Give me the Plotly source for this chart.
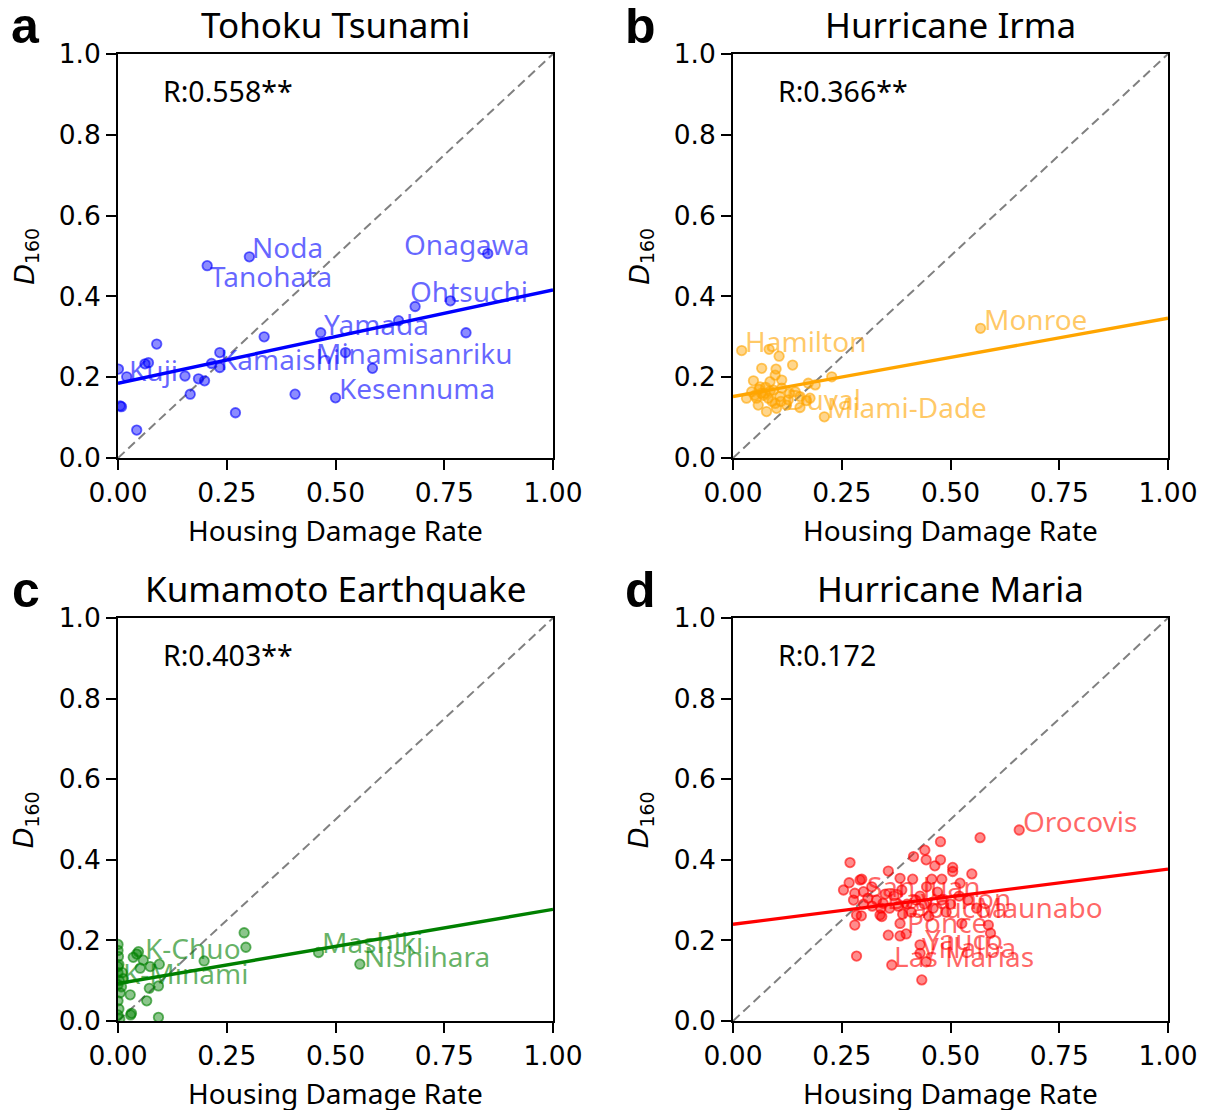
import plotly.graph_objects as go

FONT = "Noto Sans"
TICK_FONT = "DejaVu Sans"

# ---------------- data ----------------
titles = ["Tohoku Tsunami", "Hurricane Irma", "Kumamoto Earthquake", "Hurricane Maria"]
panel_letters = ["a", "b", "c", "d"]
r_texts = ["R:0.558**", "R:0.366**", "R:0.403**", "R:0.172"]
colors = [(0, 0, 255), (255, 165, 0), (0, 128, 0), (255, 0, 0)]

tohoku_x = [0.302, 0.205, 0.850, 0.764, 0.683, 0.645, 0.466, 0.800, 0.523, 0.585,
            0.407, 0.500, 0.336, 0.270, 0.234, 0.234, 0.215, 0.199, 0.185, 0.154,
            0.166, 0.089, 0.062, 0.070, 0.020, 0.001, 0.008, 0.005, 0.043]
tohoku_y = [0.498, 0.476, 0.506, 0.389, 0.375, 0.340, 0.310, 0.310, 0.261, 0.222,
            0.158, 0.149, 0.300, 0.112, 0.261, 0.224, 0.234, 0.191, 0.196, 0.203,
            0.158, 0.282, 0.233, 0.236, 0.201, 0.220, 0.127, 0.129, 0.069]

irma_x = [0.020, 0.083, 0.106, 0.137, 0.066, 0.099, 0.097, 0.227, 0.047, 0.085,
          0.112, 0.173, 0.189, 0.043, 0.062, 0.074, 0.093, 0.112, 0.143, 0.031,
          0.054, 0.081, 0.108, 0.127, 0.154, 0.169, 0.058, 0.097, 0.123, 0.154,
          0.177, 0.077, 0.100, 0.210, 0.569, 0.065, 0.070, 0.085, 0.090, 0.060,
          0.075, 0.110, 0.130, 0.050]
irma_y = [0.266, 0.269, 0.252, 0.230, 0.222, 0.220, 0.205, 0.201, 0.191, 0.189,
          0.193, 0.185, 0.181, 0.164, 0.176, 0.160, 0.168, 0.173, 0.164, 0.148,
          0.148, 0.148, 0.152, 0.144, 0.152, 0.142, 0.131, 0.135, 0.131, 0.125,
          0.148, 0.115, 0.123, 0.102, 0.321, 0.160, 0.155, 0.165, 0.140, 0.170,
          0.175, 0.140, 0.160, 0.155]

kumamoto_x = [0.290, 0.294, 0.198, 0.461, 0.556, 0.047, 0.035, 0.058, 0.051, 0.095,
              0.093, 0.072, 0.028, 0.066, 0.029, 0.093, 0.031, 0.043, 0.074, 0.000,
              0.000, 0.001, 0.002, 0.000, 0.003, 0.000, 0.005, 0.000, 0.002, 0.000,
              0.004, 0.010, 0.008, 0.012, 0.000]
kumamoto_y = [0.219, 0.183, 0.149, 0.170, 0.141, 0.172, 0.158, 0.151, 0.131, 0.141,
              0.087, 0.081, 0.065, 0.050, 0.015, 0.009, 0.019, 0.166, 0.135, 0.190,
              0.175, 0.160, 0.140, 0.120, 0.100, 0.090, 0.070, 0.050, 0.030, 0.015,
              0.005, 0.120, 0.085, 0.105, 0.135]

maria_x = [0.658, 0.568, 0.477, 0.441, 0.415, 0.444, 0.477, 0.464, 0.505, 0.505,
           0.549, 0.269, 0.357, 0.384, 0.413, 0.457, 0.480, 0.522, 0.296, 0.267,
           0.319, 0.254, 0.388, 0.445, 0.277, 0.345, 0.284, 0.280, 0.342, 0.384,
           0.357, 0.384, 0.398, 0.526, 0.587, 0.592, 0.430, 0.284, 0.365, 0.434,
           0.444, 0.430, 0.292, 0.280, 0.300, 0.295, 0.338, 0.300, 0.320, 0.340,
           0.360, 0.380, 0.400, 0.420, 0.440, 0.460, 0.480, 0.500, 0.520, 0.330,
           0.370, 0.410, 0.450, 0.490, 0.430, 0.350, 0.390, 0.310, 0.470, 0.540,
           0.560]
maria_y = [0.474, 0.455, 0.445, 0.424, 0.408, 0.400, 0.400, 0.385, 0.381, 0.371,
           0.365, 0.393, 0.372, 0.354, 0.352, 0.352, 0.352, 0.342, 0.352, 0.343,
           0.333, 0.325, 0.325, 0.333, 0.300, 0.292, 0.263, 0.238, 0.259, 0.242,
           0.213, 0.211, 0.216, 0.242, 0.238, 0.218, 0.189, 0.161, 0.139, 0.102,
           0.147, 0.168, 0.350, 0.317, 0.321, 0.261, 0.263, 0.290, 0.285, 0.280,
           0.280, 0.285, 0.290, 0.300, 0.290, 0.280, 0.300, 0.290, 0.310, 0.300,
           0.310, 0.270, 0.260, 0.270, 0.310, 0.315, 0.265, 0.305, 0.320, 0.300,
           0.280]

# fitted regression lines (intercept, slope)
fit_intercepts = [0.185, 0.152, 0.093, 0.240]
fit_slopes = [0.231, 0.194, 0.184, 0.137]

# point labels: name, label x, label y (data units)
tohoku_labels = [("Noda", 0.303, 0.522), ("Tanohata", 0.207, 0.450), ("Onagawa", 0.653, 0.530),
                 ("Ohtsuchi", 0.667, 0.413), ("Yamada", 0.469, 0.332), ("Minamisanriku", 0.451, 0.260),
                 ("Kesennuma", 0.503, 0.173), ("Kamaishi", 0.230, 0.245), ("Kuji", 0.021, 0.218)]
irma_labels = [("Monroe", 0.572, 0.344), ("Hamilton", 0.023, 0.290), ("Duval", 0.118, 0.146),
               ("Miami-Dade", 0.211, 0.126)]
kumamoto_labels = [("K-Chuo", 0.057, 0.181), ("K-Minami", 0.008, 0.119), ("Mashiki", 0.464, 0.196),
                   ("Nishihara", 0.561, 0.161)]
maria_labels = [("Orocovis", 0.662, 0.496), ("San Juan", 0.303, 0.335), ("Bayamon", 0.349, 0.305),
                ("Yabucoa", 0.372, 0.283), ("Maunabo", 0.556, 0.283), ("Ponce", 0.395, 0.246),
                ("Yauco", 0.437, 0.203), ("Villalba", 0.430, 0.184), ("Las Marias", 0.366, 0.161)]

xs = [tohoku_x, irma_x, kumamoto_x, maria_x]
ys = [tohoku_y, irma_y, kumamoto_y, maria_y]
labels = [tohoku_labels, irma_labels, kumamoto_labels, maria_labels]

x_ticks = [0, 0.25, 0.5, 0.75, 1.0]
y_ticks = [0, 0.2, 0.4, 0.6, 0.8, 1.0]

# ---------------- layout geometry ----------------
# the page body has an 8px margin, so the figure starts at (8, 8)
OFF = 8
W, H = 1208 - OFF, 1110 - OFF


def px_x(p):
    return (p - OFF) / W


def px_y(p):
    return 1 - (p - OFF) / H


x_doms = [[px_x(118), px_x(553)], [px_x(733), px_x(1168)]]
y_doms = [[px_y(458), px_y(54)], [px_y(1021), px_y(618)]]


def rgba(c, a):
    return f"rgba({c[0]},{c[1]},{c[2]},{a})"


fig = go.Figure()
annotations = []
layout_axes = {}

for i in range(4):
    row, col = divmod(i, 2)
    n = "" if i == 0 else str(i + 1)
    xa, ya = "x" + n, "y" + n
    c = colors[i]

    fig.add_trace(go.Scatter(x=[0, 1], y=[0, 1], mode="lines", xaxis=xa, yaxis=ya,
                             line=dict(color="gray", width=2, dash="9px,5px"),
                             showlegend=False, hoverinfo="skip"))
    fig.add_trace(go.Scatter(x=xs[i], y=ys[i], mode="markers", xaxis=xa, yaxis=ya,
                             marker=dict(size=9.5, color=rgba(c, 0.45),
                                         line=dict(color=rgba(c, 0.6), width=1.8)),
                             showlegend=False))
    fx = [0, 1]
    fy = [fit_intercepts[i] + fit_slopes[i] * v for v in fx]
    fig.add_trace(go.Scatter(x=fx, y=fy, mode="lines", xaxis=xa, yaxis=ya,
                             line=dict(color=rgba(c, 1), width=3.4),
                             showlegend=False))

    axis_common = dict(range=[0, 1], showgrid=False, zeroline=False, showline=True,
                       linecolor="black", linewidth=1.6, mirror=True, ticks="outside",
                       ticklen=10, tickwidth=1.6, tickcolor="black", automargin=False,
                       tickfont=dict(family=TICK_FONT, size=26.5, color="black"))
    layout_axes["xaxis" + n] = dict(axis_common, domain=x_doms[col], anchor=ya,
                                    tickvals=x_ticks, ticktext=[f"{v:.2f}" for v in x_ticks])
    layout_axes["yaxis" + n] = dict(axis_common, domain=y_doms[row], anchor=xa,
                                    tickvals=y_ticks, ticktext=[f"{v:.1f}" for v in y_ticks])

    xd, yd = xa + " domain", ya + " domain"
    annotations.append(dict(text=titles[i], x=0.5, y=1.072, xref=xd, yref=yd,
                            xanchor="center", yanchor="middle", showarrow=False,
                            font=dict(family=FONT, size=35, color="black")))
    annotations.append(dict(text=panel_letters[i], x=-0.212, y=1.07, xref=xd, yref=yd,
                            xanchor="center", yanchor="middle", showarrow=False,
                            font=dict(family="Liberation Sans", size=50, color="black",
                                      weight="bold")))
    annotations.append(dict(text=r_texts[i], x=0.099, y=0.908, xref=xd, yref=yd,
                            xanchor="left", yanchor="middle", showarrow=False,
                            font=dict(family=FONT, size=28.5, color="black")))
    annotations.append(dict(text="Housing Damage Rate", x=0.5, y=-0.178, xref=xd, yref=yd,
                            xanchor="center", yanchor="middle", showarrow=False,
                            font=dict(family=FONT, size=28, color="black")))
    annotations.append(dict(text="<i>D</i><sub>160</sub>", x=-0.212, y=0.5, xref=xd, yref=yd,
                            xanchor="center", yanchor="middle", showarrow=False, textangle=-90,
                            font=dict(family="DejaVu Sans", size=27, color="black")))
    for name, lx, ly in labels[i]:
        annotations.append(dict(text=name, x=lx, y=ly, xref=xa, yref=ya,
                                xanchor="left", yanchor="middle", showarrow=False,
                                font=dict(family=FONT, size=28, color=rgba(c, 0.6))))

fig.update_layout(width=W, height=H, margin=dict(l=0, r=0, t=0, b=0),
                  paper_bgcolor="white", plot_bgcolor="white",
                  annotations=annotations, **layout_axes)

fig.write_html("out.html")
